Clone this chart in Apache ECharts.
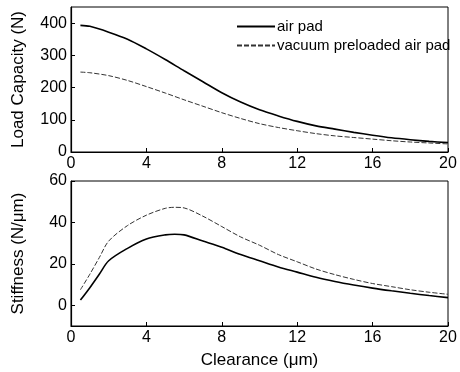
<!DOCTYPE html>
<html>
<head>
<meta charset="utf-8">
<script src="https://cdn.jsdelivr.net/npm/echarts@6/dist/echarts.min.js"></script>
<style>html,body{margin:0;padding:0;background:#fff}#c{width:460px;height:372px}</style>
</head>
<body>
<div id="c"></div>
<script>
// Load capacity (N) vs clearance (um)
const loadX = [0.5, 1, 2, 3, 4, 5, 6, 7, 8, 9, 10, 11, 12, 13, 14, 15, 16, 17, 18, 19, 20];
const loadAirPad = [393, 390, 372, 350, 320, 287, 252, 218, 184, 155, 131, 112, 95, 81, 71, 61, 52, 44, 38, 33, 29];
const loadVacuum = [248, 246, 237, 222, 203, 183, 162, 142, 122, 104, 88, 76, 66, 57, 50, 45, 40, 35, 31, 28, 25];
// Stiffness (N/um) vs clearance (um)
const stiffX = [0.5, 1, 1.5, 2, 3, 4, 5, 5.5, 6, 7, 8, 9, 10, 11, 12, 13, 14, 15, 16, 17, 18, 19, 20];
const stiffAirPad = [2.5, 8.5, 15, 21.5, 27.5, 32, 34, 34.3, 34, 31, 28, 24.5, 21.5, 18.5, 16, 13.5, 11.5, 9.8, 8.3, 7, 5.8, 4.7, 3.7];
const stiffVacuum = [7.5, 15, 23, 31, 38.5, 43.5, 46.8, 47.3, 47, 43, 38, 33, 29, 24.5, 21, 17.5, 14.8, 12.5, 10.5, 9, 7.5, 6.3, 5.3];
const xTicks = [0, 4, 8, 12, 16, 20];
const loadTicks = [0, 100, 200, 300, 400];
const stiffTicks = [0, 20, 40, 60];
const seriesNames = ['air pad', 'vacuum preloaded air pad'];

const pairs = (xs, ys) => xs.map((x, i) => [x, ys[i]]);
const font = 'Liberation Sans, Arial, Helvetica, sans-serif';
const solid = {color: '#000', width: 1.6, type: 'solid'};
const dashed = {color: '#333', width: 1, type: [5, 2]};

function xAxis(gridIndex, showName) {
  return {
    type: 'value', gridIndex, min: 0, max: 20, interval: 4,
    axisLine: {show: true, onZero: false, lineStyle: {color: '#000', width: 1.2}},
    axisTick: {show: true, inside: true, length: 4, lineStyle: {color: '#000'}, customValues: xTicks},
    axisLabel: {color: '#000', fontSize: 16, fontFamily: font, margin: 4, customValues: xTicks},
    splitLine: {show: false},
    name: showName ? 'Clearance (\u03bcm)' : '',
    nameLocation: 'middle', nameGap: 26,
    nameTextStyle: {color: '#000', fontSize: 17, fontFamily: font}
  };
}
function yAxis(gridIndex, name, min, max, ticks) {
  return {
    type: 'value', gridIndex, min, max,
    axisLine: {show: true, onZero: false, lineStyle: {color: '#000', width: 1.2}},
    axisTick: {show: true, inside: true, length: 4, lineStyle: {color: '#000'}, customValues: ticks},
    axisLabel: {color: '#000', fontSize: 16, fontFamily: font, margin: 4, customValues: ticks},
    splitLine: {show: false},
    name, nameLocation: 'middle', nameGap: 44, nameRotate: 90,
    nameTextStyle: {color: '#000', fontSize: 17, fontFamily: font}
  };
}

const chart = echarts.init(document.getElementById('c'), null, {renderer: 'canvas'});
chart.setOption({
  animation: false,
  backgroundColor: '#fff',
  grid: [
    {left: 71, right: 12, top: 7, height: 145, show: true, borderColor: '#000', borderWidth: 1},
    {left: 71, right: 12, top: 181, height: 145, show: true, borderColor: '#000', borderWidth: 1}
  ],
  legend: {
    left: 231, top: 14, orient: 'vertical', itemWidth: 38, itemHeight: 12, itemGap: 4,
    data: seriesNames,
    itemStyle: {opacity: 0},
    textStyle: {color: '#000', fontSize: 15, fontFamily: font, padding: [0, 0, 0, -3]}
  },
  xAxis: [xAxis(0, false), xAxis(1, true)],
  yAxis: [yAxis(0, 'Load Capacity (N)', 0, 450, loadTicks), yAxis(1, 'Stiffness (N/\u03bcm)', -10, 60, stiffTicks)],
  series: [
    {name: seriesNames[0], type: 'line', xAxisIndex: 0, yAxisIndex: 0, data: pairs(loadX, loadAirPad), smooth: 0.3, symbol: 'none', lineStyle: solid, itemStyle: {color: '#000'}},
    {name: seriesNames[1], type: 'line', xAxisIndex: 0, yAxisIndex: 0, data: pairs(loadX, loadVacuum), smooth: 0.3, symbol: 'none', lineStyle: dashed, itemStyle: {color: '#333'}},
    {name: seriesNames[0], type: 'line', xAxisIndex: 1, yAxisIndex: 1, data: pairs(stiffX, stiffAirPad), smooth: 0.3, symbol: 'none', lineStyle: solid, itemStyle: {color: '#000'}},
    {name: seriesNames[1], type: 'line', xAxisIndex: 1, yAxisIndex: 1, data: pairs(stiffX, stiffVacuum), smooth: 0.3, symbol: 'none', lineStyle: dashed, itemStyle: {color: '#333'}}
  ]
});
</script>
</body>
</html>
